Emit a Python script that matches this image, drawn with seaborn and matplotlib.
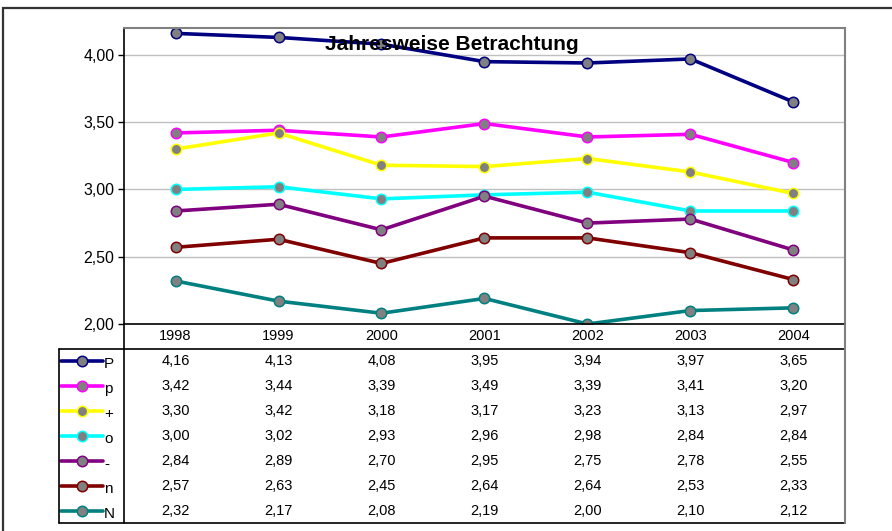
import numpy as np
import pandas as pd
import matplotlib.pyplot as plt
import seaborn as sns
from matplotlib.patches import Rectangle
from matplotlib.lines import Line2D
from matplotlib.transforms import blended_transform_factory

years = ["1998", "1999", "2000", "2001", "2002", "2003", "2004"]
series_names = ["P", "p", "+", "o", "-", "n", "N"]
P_vals = [4.16, 4.13, 4.08, 3.95, 3.94, 3.97, 3.65]
p_vals = [3.42, 3.44, 3.39, 3.49, 3.39, 3.41, 3.20]
plus_vals = [3.30, 3.42, 3.18, 3.17, 3.23, 3.13, 2.97]
o_vals = [3.00, 3.02, 2.93, 2.96, 2.98, 2.84, 2.84]
minus_vals = [2.84, 2.89, 2.70, 2.95, 2.75, 2.78, 2.55]
n_vals = [2.57, 2.63, 2.45, 2.64, 2.64, 2.53, 2.33]
N_vals = [2.32, 2.17, 2.08, 2.19, 2.00, 2.10, 2.12]
all_vals = [P_vals, p_vals, plus_vals, o_vals, minus_vals, n_vals, N_vals]
colors = ["#000080", "#FF00FF", "#FFFF00", "#00FFFF", "#800080", "#800000", "#008080"]

sns.set_style("white")
plt.rcParams['font.family'] = ['Liberation Sans', 'DejaVu Sans']
plt.rcParams['text.color'] = 'black'
plt.rcParams['ytick.color'] = 'black'
plt.rcParams['xtick.color'] = 'black'

W, H = 892, 531
fig = plt.figure(figsize=(W / 100, H / 100), dpi=100)

def px_rect(x0, y0, x1, y1):
    # convert pixel box (top-left origin) to figure fraction
    return [x0 / W, 1 - y1 / H, (x1 - x0) / W, (y1 - y0) / H]

# outer chart frame (cut off at right/bottom like the reference)
fig.patches.append(Rectangle((3 / W, -0.05), 1.1, 1 - 8 / H + 0.05, transform=fig.transFigure,
                             fill=False, edgecolor="#333333", linewidth=1.6))

# --- plot area ---
ax = fig.add_axes(px_rect(124, 28, 845, 324))
xpos = np.arange(len(years))
for vals, c in zip(all_vals, colors):
    sns.lineplot(x=xpos, y=vals, ax=ax, color=c, linewidth=2.6, marker="o", markersize=7.5,
                 markerfacecolor="#808080", markeredgecolor=c, markeredgewidth=1.1)

ax.set_xlim(-0.5, len(years) - 0.5)
ax.set_ylim(2.0, 4.2)
ax.set_yticks([2.0, 2.5, 3.0, 3.5, 4.0])
ax.set_yticklabels([f"{v:.2f}".replace(".", ",") for v in [2.0, 2.5, 3.0, 3.5, 4.0]], fontsize=11.5)
ax.set_xticks([])
ax.tick_params(axis="y", direction="out", length=4, width=1, color="black", labelcolor="black",
               left=True, pad=3)
ax.grid(axis="y", color="#c0c0c0", linewidth=1)
ax.set_axisbelow(True)
for side in ["top", "right"]:
    ax.spines[side].set_color("#808080")
    ax.spines[side].set_linewidth(1.5)
for side in ["left", "bottom"]:
    ax.spines[side].set_color("black")
    ax.spines[side].set_linewidth(1.2)
ax.set_xlabel("")
ax.set_ylabel("")

fig.text(452 / W, 1 - 45 / H, "Jahresweise Betrachtung", ha="center", va="center",
         fontsize=15, fontweight="bold", color="black", zorder=10)

# --- data table below the plot ---
tab = fig.add_axes(px_rect(59, 324, 845, 523))
tab.set_xlim(59, 845)
tab.set_ylim(523, 324)
tab.axis("off")
blend = blended_transform_factory(ax.transData, tab.transData)

header_y = 336
row_top = 349
row_h = (523 - row_top) / len(series_names)

for i, yr in enumerate(years):
    tab.text(xpos[i], header_y, yr, transform=blend, ha="center", va="center", fontsize=10.5)

for r, (name, vals, c) in enumerate(zip(series_names, all_vals, colors)):
    yc = row_top + row_h * (r + 0.5)
    for i, v in enumerate(vals):
        tab.text(xpos[i], yc, f"{v:.2f}".replace(".", ","), transform=blend,
                 ha="center", va="center", fontsize=10.5)
    tab.add_line(Line2D([61, 103], [yc, yc], color=c, linewidth=2.6, marker=None))
    tab.plot([82], [yc], marker="o", markersize=7.5, markerfacecolor="#808080",
             markeredgecolor=c, markeredgewidth=1.1)
    tab.text(104, yc + 3, name, ha="left", va="center", fontsize=11)

# table rules
tab.plot([59, 845], [row_top, row_top], color="black", linewidth=1.2, clip_on=False)
tab.plot([59, 59], [row_top, 523], color="black", linewidth=1.2, clip_on=False)
tab.plot([124, 124], [324, 523], color="black", linewidth=1.2, clip_on=False)
tab.plot([59, 845], [523, 523], color="black", linewidth=1.2, clip_on=False)
tab.plot([845, 845], [324, 523], color="#808080", linewidth=1.5, clip_on=False)

fig.savefig("out.png", dpi=100)
